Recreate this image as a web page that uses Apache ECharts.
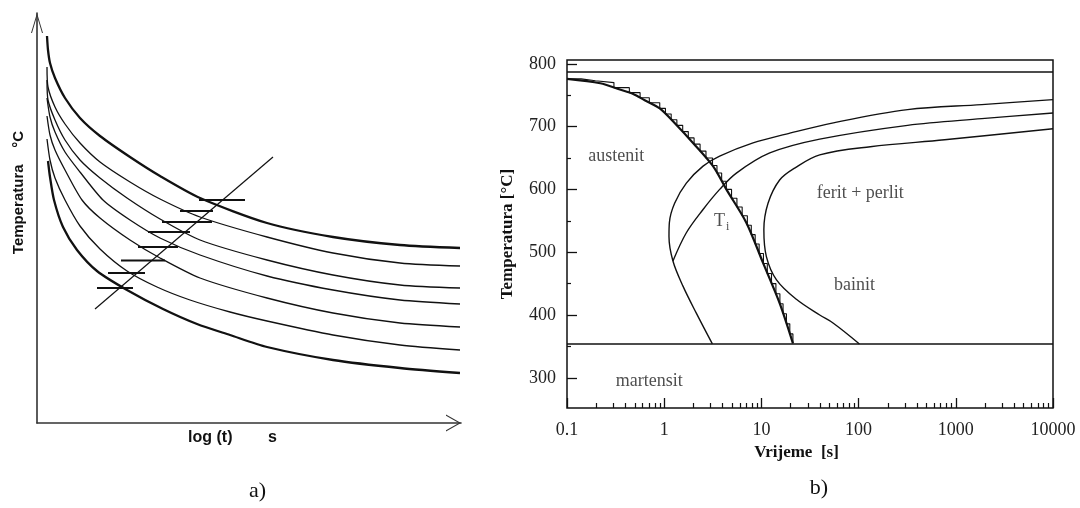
<!DOCTYPE html>
<html><head><meta charset="utf-8">
<script src="https://cdn.jsdelivr.net/npm/echarts@6/dist/echarts.min.js"></script>
<style>html,body{margin:0;padding:0;background:#fff}#c{width:1080px;height:508px}</style>
</head><body><div id="c"></div>
<script>
// ---------- Panel a) schematic (relative units: x = relative log time, y = relative temperature)
const aCurve1 = [[10,387],[11,373],[13,360],[18,345],[28,325],[43,305],[63,287],[93,266],[123,247],[163,225],[230,200],[296,186],[363,178],[423,175]];
const aCurve2 = [[10,356],[11,336],[18,316],[28,299],[43,280],[63,261],[93,241],[123,224],[163,206],[230,186],[296,170],[363,160],[423,157]];
const aCurve3 = [[10,343],[11,323],[18,303],[28,283],[43,263],[63,245],[90,225],[123,204],[163,183],[230,163],[296,148],[363,138],[423,135]];
const aCurve4 = [[10,325],[13,306],[18,291],[28,271],[43,251],[66,223],[93,203],[123,185],[163,168],[230,147],[296,133],[363,123],[423,119]];
const aCurve5 = [[10,307],[13,288],[18,273],[28,253],[45,223],[63,205],[93,183],[123,165],[163,145],[230,125],[296,110],[363,100],[423,96]];
const aCurve6 = [[10,284],[13,263],[18,245],[28,223],[43,197],[63,174],[90,152],[120,136],[153,123],[193,111],[230,102],[296,88],[363,78],[423,73]];
const aCurve7 = [[11,262],[13,246],[17,223],[26,196],[40,173],[60,152],[90,133],[126,114],[160,99],[193,88],[230,76],[296,63],[363,55],[423,50]];
const aMarkerY  = [223,212,201,191,176,162.5,150,135];
const aMarkerX1 = [162,143,125,111,101,84,71,60];
const aMarkerX2 = [208,176,175,153,141,128,108,96];
const aDiagonal = [[58,114],[236,266]];

// ---------- Panel b) CCT / Ti diagram
const bTimeTicks = [0.1,1,10,100,1000,10000];
const bMinorTimeTicks = [0.2,0.3,0.4,0.5,0.6,0.7,0.8,0.9,2,3,4,5,6,7,8,9,20,30,40,50,60,70,80,90,200,300,400,500,600,700,800,900,2000,3000,4000,5000,6000,7000,8000,9000];
const bTempTicks = [300,400,500,600,700,800];
const bMinorTempTicks = [350,450,550,650,750];
const bAc3Temp = 787;
const bMsTemp = 354;
const bTi = [[0.1,776],[0.22,769],[0.35,759],[0.48,752],[0.63,742],[0.9,729],[1.33,703],[1.98,674],[3.18,637],[4.36,600],[7.0,547],[10.4,483],[15.4,419],[21.1,355]];
const bTiSteps = [[0.1,776],[0.14,773],[0.196,770],[0.304,762],[0.438,754],[0.565,746],[0.703,738],[0.90,729],[1.03,720],[1.18,711],[1.35,702],[1.55,692],[1.77,682],[2.03,672],[2.34,661],[2.69,650],[3.14,638],[3.49,626],[3.90,613],[4.36,600],[4.93,586],[5.60,572],[6.34,558],[7.17,543],[7.87,528],[8.63,513],[9.48,498],[10.5,482],[11.5,466],[12.7,450],[14.1,434],[15.5,418],[16.7,402],[18.1,386],[19.6,370],[21.1,355]];
const bFerriteStart = [[3.13,354],[2.14,403],[1.56,446],[1.23,486],[1.12,525],[1.13,547],[1.28,578],[1.69,610],[2.51,637],[3.72,653],[8.2,674],[18,688],[55,706],[319,727],[1849,735],[10000,743]];
const bPearliteLine = [[1.23,486],[1.69,531],[2.51,568],[3.72,600],[5.53,626],[12.2,658],[39.8,680],[319,702],[1849,712.6],[10000,721.6]];
const bBainiteStart = [[10000,696.5],[767,679],[132,668],[39.8,655],[22,634],[15.4,615],[11.7,578],[10.6,536],[11.25,493],[14.3,456],[22.9,425],[39.8,400],[55,387],[102,354]];
const bLabelNames = ['austenit','ferit + perlit','bainit','martensit'];
const bLabelPos = [[0.322,652],[104,594],[91,448],[0.70,295]];
const bTiLabelPos = [3.9,549];

const INK = '#111';
const SERIF = 'Liberation Serif';
const SANS = 'Liberation Sans';

const thin = {color: INK, width: 1.3};
const thick = {color: INK, width: 2.3};
function aLine(data, ls){
  return {type:'line', xAxisIndex:0, yAxisIndex:0, data, showSymbol:false, symbol:'none',
    smooth:0.25, lineStyle:ls, clip:false, silent:true};
}
const series = [
  aLine(aCurve1, thick), aLine(aCurve2, thin), aLine(aCurve3, thin), aLine(aCurve4, thin),
  aLine(aCurve5, thin), aLine(aCurve6, thin), aLine(aCurve7, thick),
  {type:'line', xAxisIndex:0, yAxisIndex:0, data:aDiagonal, symbol:'none', lineStyle:{color:INK,width:1.2}, silent:true}
];
aMarkerY.forEach((y,i)=>{
  series.push({type:'line', xAxisIndex:0, yAxisIndex:0, symbol:'none', silent:true,
    data:[[aMarkerX1[i],y],[aMarkerX2[i],y]], lineStyle:{color:INK,width:1.8}});
});
function bLine(data, ls, extra){
  return Object.assign({type:'line', xAxisIndex:1, yAxisIndex:1, data, symbol:'none', silent:true, lineStyle:ls}, extra||{});
}
series.push(
  bLine([[0.1,bAc3Temp],[10000,bAc3Temp]], {color:INK,width:1.5}),
  bLine([[0.1,bMsTemp],[10000,bMsTemp]], {color:INK,width:1.5}),
  bLine(bTi, {color:INK,width:2.2}, {smooth:0.3}),
  bLine(bTiSteps, {color:INK,width:1.1}, {step:'end'}),
  bLine(bFerriteStart, {color:INK,width:1.4}, {smooth:0.35}),
  bLine(bPearliteLine, {color:INK,width:1.4}, {smooth:0.35}),
  bLine(bBainiteStart, {color:INK,width:1.4}, {smooth:0.35}),
  {type:'scatter', xAxisIndex:1, yAxisIndex:1, symbolSize:1, itemStyle:{color:'rgba(0,0,0,0)'}, silent:true,
    data: bLabelNames.map((n,i)=>({name:n, value:bLabelPos[i]})),
    label:{show:true, position:'inside', formatter:'{b}', color:'#222', fontFamily:SERIF, fontSize:18}},
  {type:'scatter', xAxisIndex:1, yAxisIndex:1, symbolSize:1, itemStyle:{color:'rgba(0,0,0,0)'}, silent:true,
    data:[{name:'Ti', value:bTiLabelPos}],
    label:{show:true, position:'inside', formatter:'{t|T}{s|i}', color:'#222',
      rich:{t:{fontFamily:SERIF, fontSize:18, color:'#222'}, s:{fontFamily:SERIF, fontSize:12, color:'#222', padding:[10,0,0,1]}}}}
);

const arrowY = 'path://M0 20 L6 0 L12 20 L11 20 L6 3.3 L1 20 Z';
const arrowX = 'path://M0 15 L8.5 0 L17 15 L15.8 15 L8.5 2.2 L1.2 15 Z';

const option = {
  backgroundColor:'#fff',
  animation:false,
  title:[
    {text:'a)', left:257.5, top:480, textAlign:'center', padding:0, textStyle:{fontFamily:SERIF, fontWeight:'normal', fontSize:22, color:INK}},
    {text:'b)', left:819, top:477, textAlign:'center', padding:0, textStyle:{fontFamily:SERIF, fontWeight:'normal', fontSize:22, color:INK}}
  ],
  grid:[
    {left:37, top:13, width:424, height:410},
    {left:567, top:60, width:486, height:348, show:true, borderColor:INK, borderWidth:1.5, backgroundColor:'rgba(0,0,0,0)'}
  ],
  xAxis:[
    {gridIndex:0, type:'value', min:0, max:424, position:'bottom',
      axisLine:{show:true, lineStyle:{color:'#333', width:1.6}, symbol:['none', arrowX], symbolSize:[17,15], symbolOffset:[0,-7.5]},
      axisTick:{show:false}, axisLabel:{show:false}, splitLine:{show:false},
      name:'log (t)        s', nameLocation:'middle', nameGap:7,
      nameTextStyle:{fontFamily:SANS, fontWeight:'bold', fontSize:16, color:INK, padding:[0,33,0,0]}},
    {gridIndex:1, type:'log', logBase:10, min:0.1, max:10000, position:'bottom',
      axisLine:{show:false}, splitLine:{show:false},
      axisTick:{show:true, inside:true, length:10, customValues:bTimeTicks, lineStyle:{color:INK, width:1.3}},
      axisLabel:{show:true, customValues:bTimeTicks, fontFamily:SERIF, fontSize:18, color:'#222', margin:13,
        formatter:(v)=>String(Math.round(v*10)/10)},
      name:'Vrijeme  [s]', nameLocation:'middle', nameGap:35,
      nameTextStyle:{fontFamily:SERIF, fontWeight:'bold', fontSize:17, color:INK, padding:[0,27,0,0]}},
    {gridIndex:1, type:'log', logBase:10, min:0.1, max:10000, position:'bottom', offset:0,
      axisLine:{show:false}, splitLine:{show:false}, axisLabel:{show:false},
      axisTick:{show:true, inside:true, length:5, customValues:bMinorTimeTicks, lineStyle:{color:INK, width:1.2}}}
  ],
  yAxis:[
    {gridIndex:0, type:'value', min:0, max:410, position:'left',
      axisLine:{show:true, lineStyle:{color:'#333', width:1.6}, symbol:['none', arrowY], symbolSize:[12,20], symbolOffset:[0,-10]},
      axisTick:{show:false}, axisLabel:{show:false}, splitLine:{show:false},
      name:'Temperatura    °C', nameLocation:'middle', nameGap:11,
      nameTextStyle:{fontFamily:SANS, fontWeight:'bold', fontSize:15, color:INK, padding:[0,0,0,51]}},
    {gridIndex:1, type:'value', min:252, max:806, position:'left',
      axisLine:{show:false}, splitLine:{show:false},
      axisTick:{show:true, inside:true, length:10, customValues:bTempTicks, lineStyle:{color:INK, width:1.3}},
      axisLabel:{show:true, customValues:bTempTicks, fontFamily:SERIF, fontSize:18, color:'#222', margin:11},
      name:'Temperatura [°C]', nameLocation:'middle', nameGap:51,
      nameTextStyle:{fontFamily:SERIF, fontWeight:'bold', fontSize:17, color:INK}},
    {gridIndex:1, type:'value', min:252, max:806, position:'left', offset:0,
      axisLine:{show:false}, splitLine:{show:false}, axisLabel:{show:false},
      axisTick:{show:true, inside:true, length:4, customValues:bMinorTempTicks, lineStyle:{color:INK, width:1.2}}}
  ],
  series
};
const chart = echarts.init(document.getElementById('c'), null, {renderer:'canvas'});
chart.setOption(option);
</script>
</body></html>
